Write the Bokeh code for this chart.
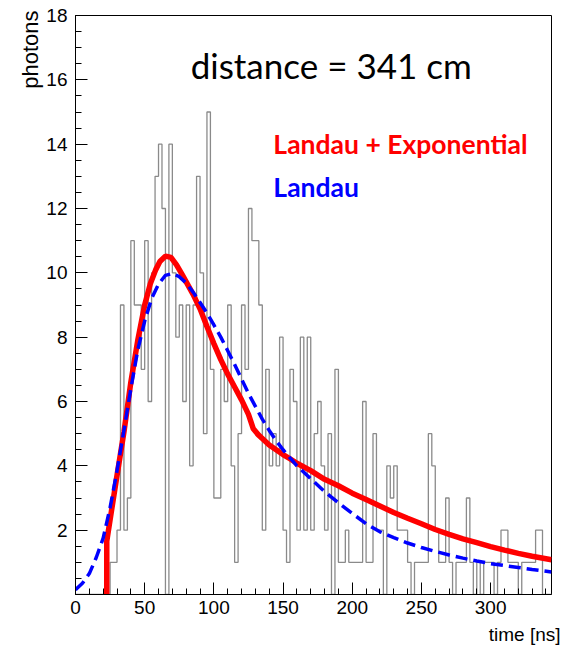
import numpy as np
from bokeh.plotting import figure
from bokeh.models import Range1d, FixedTicker, Label, Title
from bokeh.embed import file_html
from bokeh.resources import INLINE

# ---------------- data ----------------
bin_width = 2.5
hist_counts = [
    0, 0, 0, 0, 0, 0, 0, 0, 0, 0,        # 0 - 25
    1, 1, 2, 9, 2, 3, 11, 9, 9, 7,       # 25 - 50
    11, 6, 10, 13, 14, 12, 0, 14, 10, 8, # 50 - 75
    9, 6, 9, 4, 9, 13, 10, 5, 15, 7,     # 75 - 100
    3, 3, 7, 6, 9, 4, 1, 5, 9, 7,        # 100 - 125
    12, 11, 11, 9, 2, 7, 4, 5, 4, 8,     # 125 - 150
    2, 1, 7, 6, 2, 8, 2, 8, 2, 5,        # 150 - 175
    6, 4, 2, 5, 0, 7, 1, 1, 2, 1,        # 175 - 200
    1, 1, 1, 6, 1, 1, 5, 2, 2, 0,        # 200 - 225
    4, 3, 4, 2, 2, 2, 1, 0, 1, 1,        # 225 - 250
    1, 1, 5, 4, 2, 1, 1, 3, 1, 0,        # 250 - 275
    1, 1, 1, 3, 1, 0, 1, 0, 1, 1,        # 275 - 300
    1, 0, 1, 2, 2, 1, 1, 1, 0, 1,        # 300 - 325
    1, 1, 1, 2, 2, 0, 0, 0,              # 325 - 345
]

# Landau + Exponential fit
red_t = [22.6, 22.6, 26, 30, 35, 40, 45, 50, 54, 58, 61, 65, 69, 73, 77, 80, 85,
         90, 95, 100, 105, 110, 115, 120, 125, 128.5, 132, 135, 140, 145, 150,
         155, 160, 170, 180, 190, 200, 210, 220, 230, 240, 250, 260, 270, 280,
         290, 300, 310, 320, 330, 344]
red_y = [0.0, 1.66, 2.6, 3.7, 5.05, 6.6, 7.9, 9.0, 9.65, 10.1, 10.35, 10.52, 10.48,
         10.25, 9.95, 9.72, 9.33, 8.88, 8.33, 7.8, 7.3, 6.85, 6.45, 6.05, 5.6,
         5.15, 4.97, 4.85, 4.65, 4.5, 4.35, 4.22, 4.08, 3.85, 3.58, 3.38, 3.15,
         2.95, 2.75, 2.55, 2.37, 2.2, 2.02, 1.87, 1.73, 1.61, 1.49, 1.38, 1.28,
         1.19, 1.08]

# Landau fit
blue_t = [0, 5, 10, 15, 20, 25, 30, 35, 40, 45, 50, 55, 60, 65, 70, 75, 80, 85, 90,
          95, 100, 105, 110, 115, 120, 125, 130, 135, 140, 145, 150, 160, 170,
          180, 190, 200, 210, 220, 230, 240, 250, 260, 270, 280, 290, 300, 310,
          320, 330, 344]
blue_y = [0.15, 0.35, 0.65, 1.15, 1.75, 2.7, 3.85, 5.1, 6.4, 7.6, 8.5, 9.2, 9.65,
          9.92, 9.98, 9.88, 9.68, 9.4, 9.08, 8.75, 8.38, 8.0, 7.58, 7.15, 6.7, 6.25,
          5.85, 5.45, 5.1, 4.78, 4.5, 4.0, 3.6, 3.2, 2.85, 2.52, 2.2, 1.95, 1.77,
          1.6, 1.46, 1.34, 1.23, 1.13, 1.04, 0.96, 0.9, 0.84, 0.78, 0.7]

x_major = [0, 50, 100, 150, 200, 250, 300]
y_major = [2, 4, 6, 8, 10, 12, 14, 16, 18]

title_text = "distance = 341 cm"
legend_red = "Landau + Exponential"
legend_blue = "Landau"
x_label = "time [ns]"
y_label = "photons"

# ---------------- figure ----------------
p = figure(width=563, height=649, output_backend="svg", toolbar_location=None,
           x_range=Range1d(0, 344), y_range=Range1d(0, 18),
           min_border_left=75, min_border_right=12, min_border_top=15,
           min_border_bottom=50)
p.background_fill_color = "white"
p.border_fill_color = "white"
p.outline_line_color = "black"
p.outline_line_width = 1
p.xgrid.visible = False
p.ygrid.visible = False

for ax in (p.xaxis[0], p.yaxis[0]):
    ax.axis_line_color = "black"
    ax.major_tick_in = 12
    ax.major_tick_out = 0
    ax.minor_tick_in = 6
    ax.minor_tick_out = 0
    ax.major_tick_line_color = "black"
    ax.minor_tick_line_color = "black"
    ax.major_label_text_font = "Liberation Sans"
    ax.major_label_text_font_size = "19px"
    ax.major_label_text_color = "black"

p.xaxis.ticker = FixedTicker(ticks=x_major, minor_ticks=list(range(0, 345, 10)))
p.yaxis.ticker = FixedTicker(ticks=y_major, minor_ticks=[0.5 * k for k in range(37)])
p.xaxis.major_label_standoff = 6
p.yaxis.major_label_standoff = 8

# axis titles (ROOT style: aligned to the far end)
p.add_layout(Title(text=y_label, align="right", text_font="Liberation Sans",
                   text_font_size="22px", text_font_style="normal",
                   text_color="black", standoff=2, offset=-5), "left")
p.add_layout(Title(text=x_label, align="right", text_font="Liberation Sans",
                   text_font_size="19px", text_font_style="normal",
                   text_color="black", offset=-9), "below")

# histogram
edges = [bin_width * i for i in range(len(hist_counts) + 1)]
p.step(x=edges, y=hist_counts + [hist_counts[-1]], mode="after",
       line_color="#8a8a8a", line_width=1.3)

# fits
p.line(red_t, red_y, line_color="#ff0000", line_width=5.5)
p.line(blue_t, blue_y, line_color="#0000ff", line_width=3.5, line_dash="12 6")

# texts
p.add_layout(Label(x=184.8, y=16.46, text=title_text, text_align="center",
                   text_baseline="middle", text_font="Lato",
                   text_font_size="35px", text_color="black"))
p.add_layout(Label(x=143, y=14.0, text=legend_red, text_align="left",
                   text_baseline="middle", text_font="Lato",
                   text_font_style="bold", text_font_size="26.5px",
                   text_color="#ff0000"))
p.add_layout(Label(x=143, y=12.68, text=legend_blue, text_align="left",
                   text_baseline="middle", text_font="Lato",
                   text_font_style="bold", text_font_size="26.5px",
                   text_color="#0000ff"))

open("out.html", "w").write(file_html(p, INLINE))
